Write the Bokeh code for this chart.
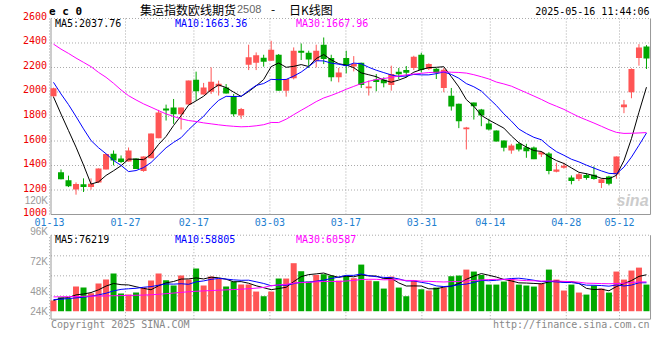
from bokeh.plotting import figure
from bokeh.models import ColumnDataSource, Label, Range1d
from bokeh.embed import file_html
from bokeh.resources import INLINE

# ---------------- data ----------------
dates = ["01-13","01-14","01-15","01-16","01-17","01-20","01-21","01-22","01-23","01-24",
         "01-27","02-05","02-06","02-07","02-10","02-11","02-12","02-13","02-14","02-17",
         "02-18","02-19","02-20","02-21","02-24","02-25","02-26","02-27","02-28","03-03",
         "03-04","03-05","03-06","03-07","03-10","03-11","03-12","03-13","03-14","03-17",
         "03-18","03-19","03-20","03-21","03-24","03-25","03-26","03-27","03-28","03-31",
         "04-01","04-02","04-03","04-07","04-08","04-09","04-10","04-11","04-14","04-15",
         "04-16","04-17","04-18","04-21","04-22","04-23","04-24","04-25","04-28","04-29",
         "04-30","05-06","05-07","05-08","05-09","05-12","05-13","05-14","05-15","05-16"]

opens = [1965,1344,1279,1205,1246,1224,1262,1368,1496,1458,
         1433,1458,1355,1460,1623,1865,1873,1819,1897,2101,
         1979,2003,2046,2036,1968,1808,2223,2239,2280,2255,
         2304,2011,2112,2337,2320,2255,2386,2277,2120,2277,
         2209,2239,2030,2103,2101,2057,2166,2179,2196,2304,
         2188,2190,2033,1970,1905,1696,1914,1857,1743,1686,
         1604,1523,1577,1550,1547,1490,1498,1349,1382,1303,
         1290,1322,1325,1257,1311,1328,1876,1998,2277,2372]
highs = [2035,1368,1317,1262,1295,1295,1376,1493,1523,1482,
         1547,1458,1474,1661,1854,1897,1943,1873,2093,2166,
         2074,2201,2093,2065,1984,1870,2386,2323,2304,2418,
         2310,2106,2364,2396,2337,2386,2445,2304,2196,2337,
         2293,2239,2093,2147,2120,2215,2196,2212,2296,2320,
         2234,2196,2196,2033,1905,1715,1914,1862,1781,1686,
         1604,1577,1591,1577,1555,1517,1509,1422,1422,1319,
         1338,1338,1393,1292,1316,1474,1935,2193,2391,2383]
lows = [1960,1287,1224,1162,1184,1203,1257,1368,1401,1420,
        1433,1371,1349,1460,1623,1767,1740,1694,1897,1930,
        1979,1984,1971,1987,1800,1781,2179,2179,2207,2255,
        2011,1962,2103,2261,2196,2201,2228,2087,2079,2152,
        2168,2033,1971,2006,2038,2011,2106,2120,2179,2160,
        2179,2106,1998,1848,1705,1531,1775,1721,1686,1596,
        1515,1496,1515,1463,1452,1469,1328,1344,1374,1246,
        1273,1284,1284,1216,1238,1292,1827,1949,2215,2188]
closes = [2030,1287,1230,1249,1224,1252,1376,1493,1441,1428,
          1523,1371,1474,1661,1832,1848,1819,1873,2093,2006,
          2036,2084,2068,1987,1819,1862,2283,2299,2247,2345,
          2011,2106,2337,2320,2266,2337,2269,2120,2160,2215,
          2228,2057,2044,2082,2071,2147,2144,2158,2288,2179,
          2228,2155,2182,1881,1762,1710,1884,1808,1694,1596,
          1545,1564,1531,1517,1452,1509,1355,1368,1398,1273,
          1328,1298,1290,1287,1252,1474,1897,2188,2364,2274]

# volume in thousands of lots
volume_k = [22.2,29.1,27.1,51.3,49.2,37.5,57.6,65.8,78.4,36.8,
            34.6,38.8,49.2,63.8,78.4,64.4,53.4,74.2,65.8,88.7,
            53.4,72.1,67.2,51.3,61.7,55.4,55.4,40.9,31.2,40.9,
            68.0,68.0,99.9,83.2,61.7,75.5,76.9,74.2,63.8,74.2,
            68.7,97.0,63.8,62.4,47.1,72.1,49.2,31.2,63.8,45.7,
            43.0,49.2,49.2,72.8,74.2,86.6,82.5,75.5,55.4,55.4,
            61.7,67.2,55.4,53.4,51.3,57.6,86.6,65.8,43.0,55.4,
            38.8,34.6,53.4,47.1,38.8,82.5,65.8,84.6,90.7,55.4]

# moving-average values at the left edge (they depend on days before the window)
ma5_head = [1960, 1820, 1685, 1550]
ma10_head = [2079, 1984, 1897, 1800, 1699, 1604, 1545, 1496, 1441]
ma30_head = [2391, 2350, 2315, 2277, 2242, 2207, 2160, 2120, 2071, 2017,
             1970, 1935, 1903, 1876, 1848, 1821, 1800, 1781, 1767, 1759,
             1748, 1740, 1732, 1725, 1720, 1716, 1718, 1724, 1733]
vma5_head = [22.2, 27.0, 28.4, 34.0]
vma10_head = [24.3, 25.0, 26.3, 27.7, 29.1, 31.2, 34.0, 37.4, 42.3]
vma30_head = [29.8, 30.0, 30.3, 30.6, 31.0, 31.3, 31.6, 31.9, 32.2, 32.5,
              32.8, 33.2, 33.6, 34.2, 35.2, 36.5, 37.8, 39.2, 40.5, 41.5,
              42.3, 43.0, 43.7, 44.4, 45.1, 45.8, 46.8, 48.0, 49.5]

tick_labels = ["01-13","01-27","02-17","03-03","03-17","03-31","04-14","04-28","05-12"]
price_ticks = [1000, 1200, 1400, 1600, 1800, 2000, 2200, 2400, 2600]
vol_tick_labels = ["96K", "72K", "48K", "24K"]
legend_price = ["MA5:2037.76", "MA10:1663.36", "MA30:1667.96"]
legend_vol = ["MA5:76219", "MA10:58805", "MA30:60587"]

# ---------------- derived ----------------
def moving_avg(vals, n, head):
    out = list(head)
    for i in range(len(head), len(vals)):
        out.append(sum(vals[i - n + 1:i + 1]) / n)
    return out

n = len(dates)
idx = list(range(n))
volume = [v * 1000 for v in volume_k]
ma5 = moving_avg(closes, 5, ma5_head)
ma10 = moving_avg(closes, 10, ma10_head)
ma30 = moving_avg(closes, 30, ma30_head)
vma5 = [v * 1000 for v in moving_avg(volume_k, 5, vma5_head)]
vma10 = [v * 1000 for v in moving_avg(volume_k, 10, vma10_head)]
vma30 = [v * 1000 for v in moving_avg(volume_k, 30, vma30_head)]

RED = "#ff5555"
GREEN = "#00a800"
GRID = "#aaaaaa"
AXC = "#999999"
MONO = "DejaVu Sans Mono"
CJK = "Noto Sans CJK SC"

colors = [RED if c >= o else GREEN for o, c in zip(opens, closes)]
src = ColumnDataSource(dict(
    x=idx, o=opens, h=highs, l=lows, c=closes,
    top=[max(o, c) for o, c in zip(opens, closes)],
    bot=[min(o, c) for o, c in zip(opens, closes)],
    color=colors, vol=volume, zero=[0] * n,
    ma5=ma5, ma10=ma10, ma30=ma30, vma5=vma5, vma10=vma10, vma30=vma30))

# date grid follows the reference's own slot (slightly wider than the candle slot)
tick_idx = [dates.index(t) for t in tick_labels]
tick_pos = [(7.6 * i - 4.0) / 7.506 for i in tick_idx]

# geometry: one canvas holding both panels; price on the default y range,
# volume on an extra y range
XA, XB = -7.061, 79.803          # whole canvas width (index units)
XL, XR = -0.333, 79.54           # panel borders
P0, P1 = -28.5, 2746.9           # price scale over the whole canvas
PB, PT = 1000, 2600              # price panel
V0, V1 = -60.9e3, 646.3e3        # volume scale over the whole canvas
VB, VT = -16.6e3, 158.1e3        # volume panel
vol_grid = [32.0e3, 73.6e3, 115.2e3]

p = figure(frame_width=652, frame_height=340, x_range=Range1d(XA, XB),
           y_range=Range1d(P0, P1), x_axis_type=None, y_axis_type=None,
           output_backend="svg", toolbar_location=None,
           min_border_left=0, min_border_right=0, min_border_top=0, min_border_bottom=0)
p.extra_y_ranges = {"vol": Range1d(V0, V1)}
p.outline_line_color = None

def lab(x, y, text, xo=0, yo=0, color="black", size="10px", font=MONO,
        align="left", baseline="middle", style="normal", yr="default"):
    p.add_layout(Label(x=x, y=y, x_offset=xo, y_offset=yo, text=text, y_range_name=yr,
                       text_color=color, text_font_size=size, text_font=font,
                       text_align=align, text_baseline=baseline, text_font_style=style))

def panel_frame(ybot, ytop, hgrid, yr):
    # dotted grid (incl. dotted top edge) and solid left/right/bottom edges
    k = len(tick_pos)
    p.segment(x0=tick_pos, y0=[ybot] * k, x1=tick_pos, y1=[ytop] * k, y_range_name=yr,
              line_color=GRID, line_dash="1 2", line_width=1)
    hg = list(hgrid) + [ytop]
    p.segment(x0=[XL] * len(hg), y0=hg, x1=[XR] * len(hg), y1=hg, y_range_name=yr,
              line_color=GRID, line_dash="1 2", line_width=1)
    p.segment(x0=[XL, XR, XL], y0=[ybot, ybot, ybot], x1=[XL, XR, XR], y1=[ytop, ytop, ybot],
              y_range_name=yr, line_color=AXC, line_width=1)

# ---------------- price panel ----------------
panel_frame(PB, PT, price_ticks[1:-1], "default")

p.segment(x0="x", y0="l", x1="x", y1="h", line_color="color", line_width=1, source=src)
p.vbar(x="x", width=0.8, top="top", bottom="bot", fill_color="color",
       line_color=None, source=src)
p.line("x", "ma5", source=src, line_color="black", line_width=1)
p.line("x", "ma10", source=src, line_color="#0000ff", line_width=1)
p.line("x", "ma30", source=src, line_color="#ff00ff", line_width=1)

for t in price_ticks:
    lab(XL, t, str(t), xo=-4, yo=2.5, color="#ee0000", align="right")
for tp, tl in zip(tick_pos, tick_labels):
    lab(tp, PB, tl, yo=-7.5, color="#1f80d0", align="center")

lab(XR, 1114, "sina", xo=-2, color="#cccccc", size="16px",
    font="Liberation Sans", align="right", style="bold italic")
lab(XL, 1118, "120K", xo=-3, color="#999999", font="Liberation Sans", align="right")

lab(XL, PT, "e c 0", xo=-2, yo=6.5, size="11px", style="bold")
lab(XL, PT, "集运指数欧线期货", xo=89, yo=9, size="12px", font=CJK)
lab(XL, PT, "2508", xo=186, yo=9, size="11px", font="Liberation Sans", color="#666666")
lab(XL, PT, "-", xo=220, yo=9, size="12px", font=CJK)
lab(XL, PT, "日K线图", xo=238, yo=9, size="12px", font=CJK)
lab(XR, PT, "2025-05-16 11:44:06", xo=-1, yo=7, align="right")

for text, xo, col in zip(legend_price, [4, 124, 245], ["black", "#0000ff", "#ff00ff"]):
    lab(XL, PT, text, xo=xo, yo=-5.5, color=col)

# ---------------- volume panel ----------------
panel_frame(VB, VT, vol_grid, "vol")

p.vbar(x="x", width=0.8, top="vol", bottom="zero", fill_color="color",
       line_color=None, source=src, y_range_name="vol")
p.line("x", "vma5", source=src, line_color="black", line_width=1, y_range_name="vol")
p.line("x", "vma10", source=src, line_color="#0000ff", line_width=1, y_range_name="vol")
p.line("x", "vma30", source=src, line_color="#ff00ff", line_width=1, y_range_name="vol")

for text, yv in zip(vol_tick_labels, [166.8e3, 104.4e3, 41.0e3, 0.4e3]):
    lab(XL, yv, text, xo=-3, color="#999999", font="Liberation Sans", align="right", yr="vol")

for text, xo, col in zip(legend_vol, [4, 124, 245], ["black", "#0000ff", "#ff00ff"]):
    lab(XL, VT, text, xo=xo, yo=-4.5, color=col, yr="vol")

lab(XL, VB, "Copyright 2025 SINA.COM", xo=0, yo=-5, color="#888888", yr="vol")
lab(XR, VB, "http://finance.sina.com.cn", xo=-1, yo=-5, color="#888888", align="right", yr="vol")

open("out.html", "w").write(file_html(p, INLINE))
